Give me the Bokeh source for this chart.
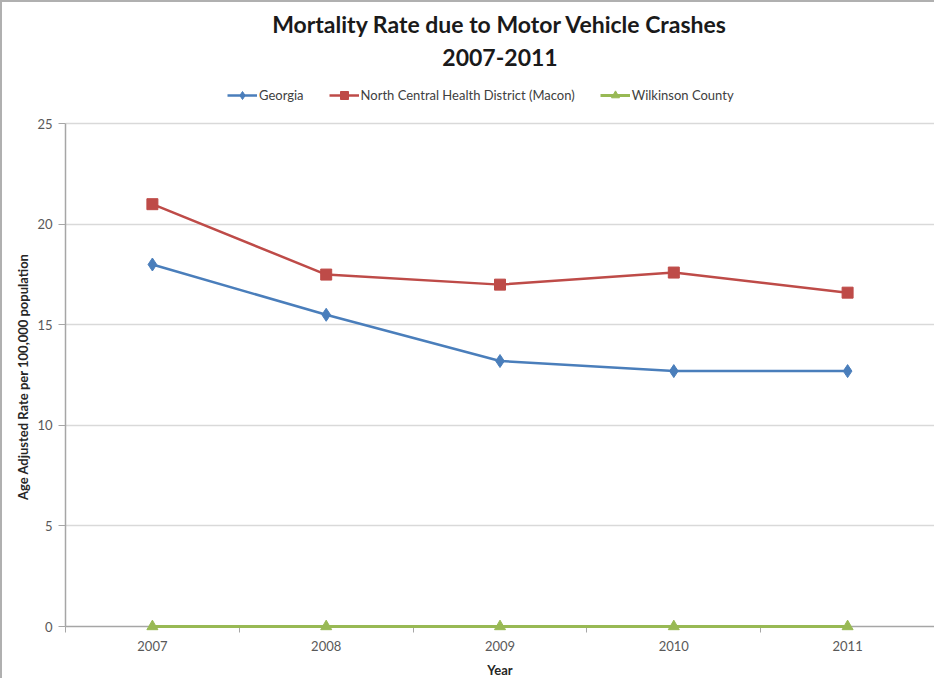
from bokeh.plotting import figure
from bokeh.models import (Legend, LegendItem, FixedTicker, Range1d, ColumnDataSource, Title)
from bokeh.embed import file_html
from bokeh.resources import INLINE

years = ["2007", "2008", "2009", "2010", "2011"]
georgia = [18.0, 15.5, 13.2, 12.7, 12.7]
north_central = [21.0, 17.5, 17.0, 17.6, 16.6]
wilkinson = [0, 0, 0, 0, 0]
y_ticks = [0, 5, 10, 15, 20, 25]

xpos = [i + 0.5 for i in range(len(years))]

FONT = "Lato"
p = figure(width=934, height=678, output_backend="svg", toolbar_location=None,
           x_range=Range1d(0, len(years)), y_range=Range1d(0, 27.2),
           min_border_left=63, min_border_right=2, min_border_bottom=53, min_border_top=77)
p.title = None
p.outline_line_color = None
p.background_fill_color = "white"
p.border_fill_color = "white"
p.styles = {"border-left": "2px solid #b0b0b0", "border-top": "2px solid #b0b0b0"}

src = ColumnDataSource(dict(x=xpos, georgia=georgia, nc=north_central, wk=wilkinson))

l1 = p.line("x", "georgia", source=src, color="#4a7ebb", line_width=2.5)
m1 = p.scatter("x", "georgia", source=src, marker="diamond", size=13, color="#4a7ebb")
l2 = p.line("x", "nc", source=src, color="#be4b48", line_width=2.5)
m2 = p.scatter("x", "nc", source=src, marker="square", size=11, color="#be4b48")
l3 = p.line("x", "wk", source=src, color="#98b954", line_width=3, level="overlay")
m3 = p.scatter("x", "wk", source=src, marker="triangle", size=11, color="#98b954", level="overlay")

legend = Legend(items=[
    LegendItem(label="Georgia", renderers=[l1, m1]),
    LegendItem(label="North Central Health District (Macon)", renderers=[l2, m2]),
    LegendItem(label="Wilkinson County", renderers=[l3, m3]),
], orientation="horizontal", location=(162, 521), label_text_font=FONT, label_text_font_size="13px",
    label_text_color="#404040", glyph_width=30, glyph_height=20, spacing=25, border_line_color=None,
    background_fill_alpha=0, label_standoff=2, margin=0, padding=4)
p.add_layout(legend)

p.add_layout(Title(text="2007-2011", align="center", text_font=FONT, text_font_size="23px",
                   text_font_style="bold", text_color="#1a1a1a", standoff=27), "above")
p.add_layout(Title(text="Mortality Rate due to Motor Vehicle Crashes", align="center", text_font=FONT,
                   text_font_size="23px", text_font_style="bold", text_color="#1a1a1a", standoff=-9), "above")

# axes
p.xaxis.ticker = FixedTicker(ticks=xpos, minor_ticks=list(range(len(years) + 1)))
p.xaxis.major_label_overrides = {x: y for x, y in zip(xpos, years)}
p.xaxis.major_tick_line_color = None
p.xaxis.minor_tick_line_color = "#a6a6a6"
p.xaxis.minor_tick_out = 6
p.xaxis.minor_tick_in = 0
p.xaxis.axis_line_color = "#a6a6a6"
p.xaxis.axis_line_width = 1.5
p.xaxis.major_label_text_font = FONT
p.xaxis.major_label_text_font_size = "13px"
p.xaxis.major_label_text_color = "#595959"
p.xaxis.major_label_standoff = 8
p.xaxis.axis_label = "Year"
p.xaxis.axis_label_text_font = FONT
p.xaxis.axis_label_text_font_size = "13px"
p.xaxis.axis_label_text_font_style = "bold"
p.xaxis.axis_label_text_color = "#262626"
p.xaxis.axis_label_standoff = 8

p.yaxis.ticker = FixedTicker(ticks=y_ticks)
p.yaxis.bounds = (0, 25)
p.yaxis.minor_tick_line_color = None
p.yaxis.major_tick_line_color = "#a6a6a6"
p.yaxis.major_tick_out = 7
p.yaxis.major_tick_in = 0
p.yaxis.axis_line_color = "#a6a6a6"
p.yaxis.axis_line_width = 1.5
p.yaxis.major_label_text_font = FONT
p.yaxis.major_label_text_font_size = "13px"
p.yaxis.major_label_text_color = "#595959"
p.yaxis.major_label_standoff = 6
# trailing no-break spaces shift the visible title down so it is centred on the 0-25 band
p.yaxis.axis_label = "Age Adjusted Rate per 100,000 population" + "\u00a0" * 15
p.yaxis.axis_label_text_font = FONT
p.yaxis.axis_label_text_font_size = "13px"
p.yaxis.axis_label_text_font_style = "bold"
p.yaxis.axis_label_text_color = "#262626"
p.yaxis.axis_label_standoff = 3

p.xgrid.grid_line_color = None
p.ygrid.ticker = FixedTicker(ticks=y_ticks)
p.ygrid.grid_line_color = "#d9d9d9"
p.ygrid.grid_line_width = 1.5

open("out.html", "w").write(file_html(p, INLINE))
